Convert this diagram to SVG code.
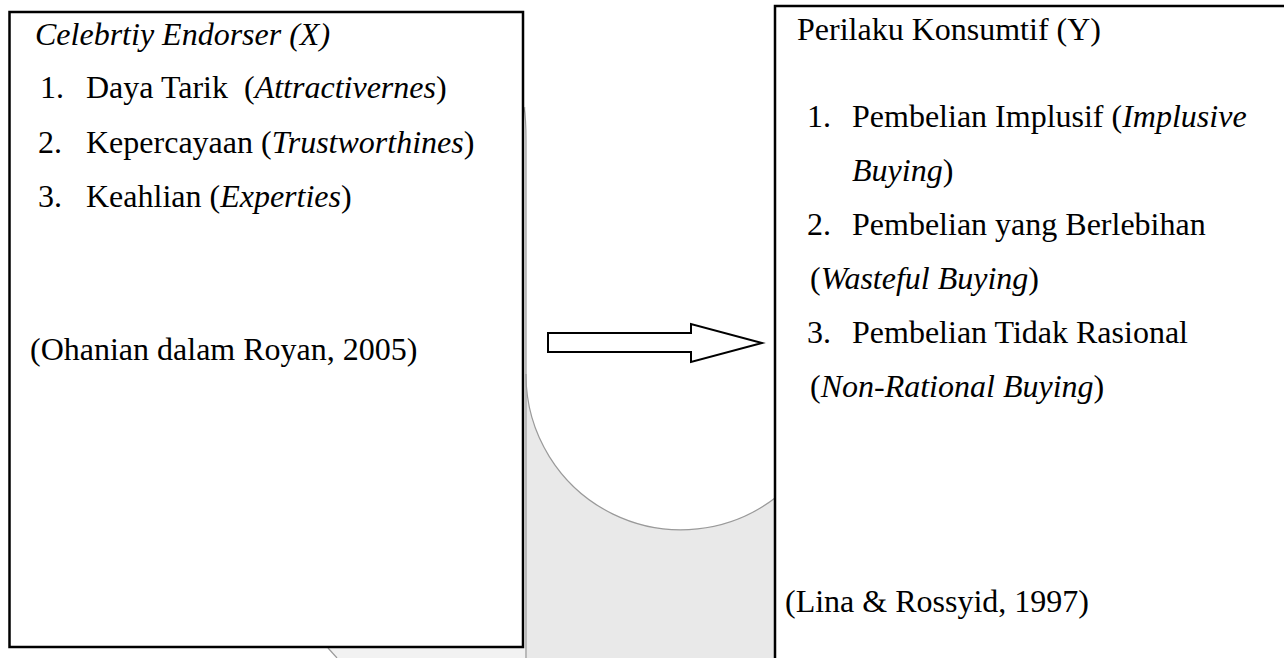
<svg xmlns="http://www.w3.org/2000/svg" width="1284" height="658" viewBox="0 0 1284 658">
  <style>
    .t { font-family: "Liberation Serif", "Times New Roman", serif; font-size: 32px; fill: #000; white-space: pre; }
    .i { font-style: italic; }
    .box { fill: #fff; stroke: #000; stroke-width: 2.5; }
    .bg { fill: #e9e9e9; stroke: none; }
    .edge { fill: none; stroke: #9a9a9a; stroke-width: 1.2; }
  </style>
  <rect x="0" y="0" width="1284" height="658" fill="#fff"/>
  <g id="background">
    <rect class="bg" x="525" y="107" width="252" height="551"/>
    <path d="M526,107 L777,107 L777,496.5 A155,155 0 0 1 526,374 Z" fill="#fff"/>
    <path class="edge" d="M777,496.5 A155,155 0 0 1 526,374"/>
    <path class="edge" d="M524,107 Q526,118 526,140 L526,658"/>
    <path d="M328,648 L337,658 L525,658 L525,648 Z" fill="#f2f2f2"/>
    <path class="edge" d="M328,648 L337,658"/>
  </g>
  <g id="node-x">
    <rect class="box" x="9.5" y="12" width="513.5" height="635"/>
    <text class="t i" x="35" y="45">Celebrtiy Endorser (X)</text>
    <text class="t" y="98"><tspan x="40">1.</tspan><tspan x="86">Daya Tarik  (<tspan class="i">Attractivernes</tspan>)</tspan></text>
    <text class="t" y="153"><tspan x="38">2.</tspan><tspan x="86">Kepercayaan (<tspan class="i">Trustworthines</tspan>)</tspan></text>
    <text class="t" y="207"><tspan x="38">3.</tspan><tspan x="86">Keahlian (<tspan class="i">Experties</tspan>)</tspan></text>
    <text class="t" x="30" y="360">(Ohanian dalam Royan, 2005)</text>
  </g>
  <g id="node-y">
    <rect class="box" x="775" y="6" width="600" height="700"/>
    <text class="t" x="797" y="40">Perilaku Konsumtif (Y)</text>
    <text class="t" y="127"><tspan x="807">1.</tspan><tspan x="852">Pembelian Implusif (<tspan class="i">Implusive</tspan></tspan></text>
    <text class="t" x="852" y="181"><tspan class="i">Buying</tspan>)</text>
    <text class="t" y="235"><tspan x="807">2.</tspan><tspan x="852">Pembelian yang Berlebihan</tspan></text>
    <text class="t" x="810" y="289">(<tspan class="i">Wasteful Buying</tspan>)</text>
    <text class="t" y="343"><tspan x="807">3.</tspan><tspan x="852">Pembelian Tidak Rasional</tspan></text>
    <text class="t" x="810" y="397">(<tspan class="i">Non-Rational Buying</tspan>)</text>
    <text class="t" x="785" y="612">(Lina &amp; Rossyid, 1997)</text>
  </g>
  <g id="connectors">
    <polygon points="548,333 691,333 691,324 762,343 691,362 691,352 548,352" fill="#fff" stroke="#000" stroke-width="2"/>
  </g>
</svg>
